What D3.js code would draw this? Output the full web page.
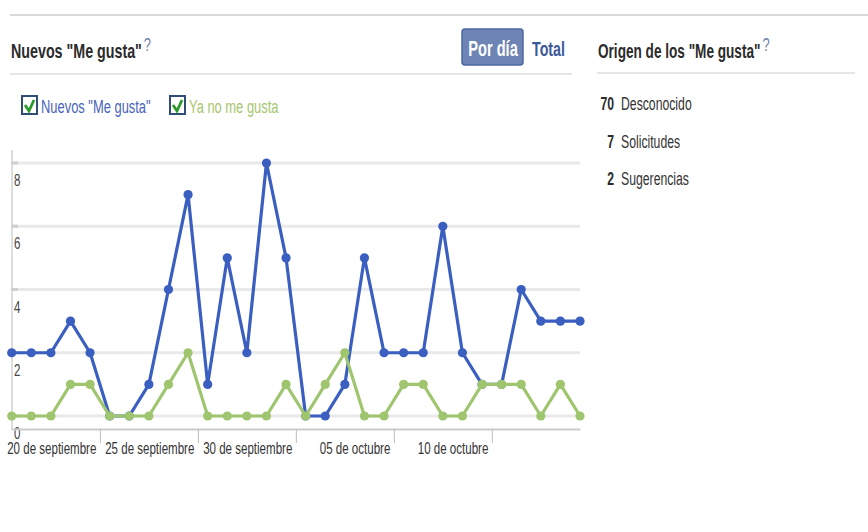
<!DOCTYPE html>
<html>
<head>
<meta charset="utf-8">
<script src="https://cdn.jsdelivr.net/npm/d3@7"></script>
<style>
  html, body { margin: 0; padding: 0; background: #fff; }
  svg { display: block; font-family: "Liberation Sans", Arial, sans-serif; }
</style>
</head>
<body>
<svg id="chart" width="868" height="532"></svg>
<script>
// days shown in the chart (one point per day)
const days = [
  "2011-09-15", "2011-09-16", "2011-09-17", "2011-09-18", "2011-09-19",
  "2011-09-20", "2011-09-21", "2011-09-22", "2011-09-23", "2011-09-24",
  "2011-09-25", "2011-09-26", "2011-09-27", "2011-09-28", "2011-09-29",
  "2011-09-30", "2011-10-01", "2011-10-02", "2011-10-03", "2011-10-04",
  "2011-10-05", "2011-10-06", "2011-10-07", "2011-10-08", "2011-10-09",
  "2011-10-10", "2011-10-11", "2011-10-12", "2011-10-13", "2011-10-14"
];
const newLikes = [2, 2, 2, 3, 2, 0, 0, 1, 4, 7, 1, 5, 2, 8, 5, 0, 0, 1, 5, 2, 2, 2, 6, 2, 1, 1, 4, 3, 3, 3];
const unlikes  = [0, 0, 0, 1, 1, 0, 0, 0, 1, 2, 0, 0, 0, 0, 1, 0, 1, 2, 0, 0, 1, 1, 0, 0, 1, 1, 1, 0, 1, 0];

const tickDays = ["2011-09-20", "2011-09-25", "2011-09-30", "2011-10-05", "2011-10-10"];
const tickLabels = ["20 de septiembre", "25 de septiembre", "30 de septiembre", "05 de octubre", "10 de octubre"];
const yTicks = [0, 2, 4, 6, 8];

const sourceCounts = [70, 7, 2];
const sourceNames = ["Desconocido", "Solicitudes", "Sugerencias"];

const BLUE = "#3a5fc0";
const GREEN = "#9fc56e";
const SX = 0.68; // the screenshot text is narrow, squeeze it horizontally

const svg = d3.select("#chart");
const parse = d3.timeParse("%Y-%m-%d");
const midday = s => d3.timeHour.offset(parse(s), 12);

function label(parent, x, y, str, o) {
  return parent.append("text")
    .attr("transform", `translate(${x},${y}) scale(${SX},1)`)
    .attr("font-size", o.size)
    .attr("font-weight", o.bold ? "bold" : null)
    .attr("fill", o.color)
    .attr("text-anchor", o.anchor || "start")
    .text(str);
}

function hline(x1, x2, y, color, w) {
  svg.append("line").attr("x1", x1).attr("x2", x2).attr("y1", y).attr("y2", y)
    .attr("stroke", color).attr("stroke-width", w);
}

// separators
hline(10, 868, 15, "#d9d9d9", 2);
hline(10, 572, 74, "#e6e6e6", 2);
hline(597, 855, 73, "#e6e6e6", 2);

// left header
const t1 = label(svg, 11, 58, 'Nuevos "Me gusta"', { size: 21, bold: true, color: "#2b2b2b" });
label(svg, 11 + t1.node().getComputedTextLength() * SX + 2, 51, "?", { size: 19, color: "#6f7fa6" });

svg.append("rect").attr("x", 462).attr("y", 29).attr("width", 61).attr("height", 36).attr("rx", 3)
  .attr("fill", "#6d84b4").attr("stroke", "#4c68a3").attr("stroke-width", 1.5);
label(svg, 493, 56, "Por día", { size: 21.5, bold: true, color: "#fff", anchor: "middle" });
label(svg, 532, 56, "Total", { size: 21, bold: true, color: "#3b5998" });

// legend
const legend = [
  { x: 22, text: 'Nuevos "Me gusta"', color: "#4a64b9" },
  { x: 170, text: "Ya no me gusta", color: "#a7c56f" }
];
legend.forEach(l => {
  svg.append("rect").attr("x", l.x).attr("y", 96).attr("width", 15).attr("height", 18)
    .attr("fill", "#fff").attr("stroke", "#2f4d75").attr("stroke-width", 2);
  svg.append("path")
    .attr("d", `M${l.x + 3},${105} L${l.x + 7},${111} L${l.x + 12},${100}`)
    .attr("fill", "none").attr("stroke", "#2a9b2a").attr("stroke-width", 2.8);
  label(svg, l.x + 19, 113, l.text, { size: 19, color: l.color });
});

// right panel
const t2 = label(svg, 598, 58, 'Origen de los "Me gusta"', { size: 20, bold: true, color: "#2b2b2b" });
label(svg, 598 + t2.node().getComputedTextLength() * SX + 2, 51, "?", { size: 19, color: "#6f7fa6" });

sourceNames.forEach((name, i) => {
  const yy = 110 + i * 37.5;
  label(svg, 614, yy, sourceCounts[i], { size: 18, bold: true, color: "#2b2b2b", anchor: "end" });
  label(svg, 621, yy, name, { size: 18, color: "#333" });
});

// chart
const dates = days.map(midday);
const x = d3.scaleTime().domain(d3.extent(dates)).range([11.7, 580]);
const y = d3.scaleLinear().domain([0, 8]).range([416, 163]);

const grid = svg.append("g");
yTicks.forEach(v => {
  grid.append("line").attr("x1", 11).attr("x2", 580).attr("y1", y(v)).attr("y2", y(v))
    .attr("stroke", "#e9e9e9").attr("stroke-width", 3);
  grid.append("line").attr("x1", 11).attr("x2", 18).attr("y1", y(v)).attr("y2", y(v))
    .attr("stroke", "#cfcfcf").attr("stroke-width", 3);
  label(grid, 14, y(v) + 23, v, { size: 17, color: "#444" });
});
svg.append("line").attr("x1", 12).attr("x2", 12).attr("y1", 150).attr("y2", 430)
  .attr("stroke", "#d2d2d2").attr("stroke-width", 1.5);

const xAxis = svg.append("g").attr("transform", "translate(0,429)")
  .call(d3.axisBottom(x)
    .tickValues(tickDays.map(parse))
    .tickSize(14).tickSizeOuter(0)
    .tickFormat((d, i) => tickLabels[i]));
xAxis.select(".domain").attr("stroke", "#cccccc").attr("stroke-width", 2);
xAxis.selectAll(".tick line").attr("stroke", "#bdbdbd");
xAxis.selectAll(".tick text")
  .attr("x", 0).attr("y", 0).attr("dy", null)
  .attr("transform", `translate(-4,25) scale(${SX},1)`)
  .attr("text-anchor", "end").attr("font-size", 17).attr("fill", "#333")
  .attr("font-family", "Liberation Sans, Arial, sans-serif");

const series = [
  { values: newLikes, color: BLUE },
  { values: unlikes, color: GREEN }
];
const line = d3.line().x(d => x(d.date)).y(d => y(d.v));
series.forEach(s => {
  const pts = s.values.map((v, i) => ({ date: dates[i], v }));
  const g = svg.append("g");
  g.append("path").datum(pts).attr("d", line)
    .attr("fill", "none").attr("stroke", s.color).attr("stroke-width", 3.2)
    .attr("stroke-linejoin", "round");
  g.selectAll("circle").data(pts).enter().append("circle")
    .attr("cx", d => x(d.date)).attr("cy", d => y(d.v)).attr("r", 4.6)
    .attr("fill", s.color);
});
</script>
</body>
</html>
